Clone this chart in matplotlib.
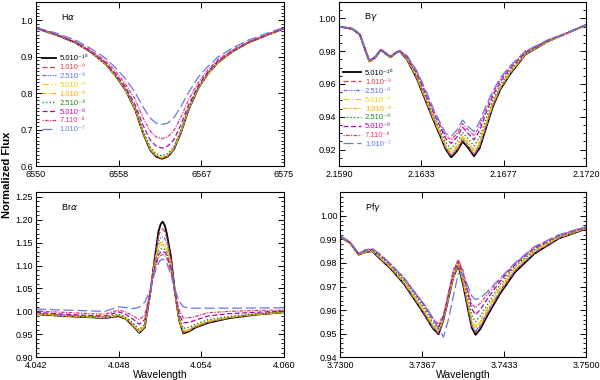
import matplotlib
matplotlib.use('Agg')
import matplotlib.pyplot as plt
from matplotlib.ticker import AutoMinorLocator, NullLocator
import numpy as np

plt.rcParams['font.family'] = ['Liberation Sans', 'DejaVu Sans']

# mass-loss rates (legend)
labels = ['5.010⁻¹⁰', '1.010⁻⁹', '2.510⁻⁹', '5.010⁻⁹', '1.010⁻⁸',
          '2.510⁻⁸', '5.010⁻⁸', '7.110⁻⁸', '1.010⁻⁷']
colors = ['#000000', '#dc3c46', '#5a6ee6', '#e6d200', '#ffa500',
          '#1e8c1e', '#b400b4', '#dc3c78', '#6478e6']
styles = ['-', (0, (4, 2)), (0, (3, 1, 1, 1, 1, 1, 1, 1)), (0, (5, 2, 1, 2)), (0, (3, 1, 1, 1, 1, 1)),
          (0, (1, 1.5)), (0, (4, 2)), (0, (1, 1, 3, 1)), (0, (8, 3))]
widths = [1.3, 0.9, 0.9, 0.9, 0.9, 1.0, 0.9, 0.9, 0.9]

# H alpha
ha_wl = [6550, 6552, 6554, 6555.5, 6557, 6558, 6559, 6560, 6560.8, 6561.5, 6562.1, 6562.7,
         6563.3, 6563.9, 6564.6, 6565.4, 6566.4, 6567.4, 6568.4, 6569.9, 6571.4, 6573.4, 6575]
ha_flux = [
    [0.978, 0.960, 0.938, 0.913, 0.880, 0.848, 0.810, 0.755, 0.690, 0.645, 0.626, 0.620, 0.626, 0.645, 0.690, 0.755, 0.815, 0.855, 0.885, 0.915, 0.938, 0.960, 0.977],
    [0.978, 0.960, 0.938, 0.913, 0.880, 0.848, 0.810, 0.756, 0.691, 0.646, 0.627, 0.621, 0.627, 0.646, 0.691, 0.756, 0.815, 0.855, 0.885, 0.915, 0.938, 0.960, 0.977],
    [0.978, 0.960, 0.938, 0.913, 0.880, 0.848, 0.811, 0.757, 0.692, 0.647, 0.628, 0.622, 0.628, 0.647, 0.692, 0.757, 0.816, 0.855, 0.885, 0.915, 0.938, 0.960, 0.977],
    [0.978, 0.960, 0.938, 0.913, 0.880, 0.848, 0.811, 0.757, 0.693, 0.648, 0.629, 0.623, 0.629, 0.648, 0.693, 0.757, 0.816, 0.855, 0.885, 0.915, 0.938, 0.960, 0.977],
    [0.978, 0.960, 0.938, 0.913, 0.880, 0.848, 0.811, 0.758, 0.694, 0.649, 0.630, 0.624, 0.630, 0.649, 0.694, 0.758, 0.816, 0.855, 0.885, 0.915, 0.938, 0.960, 0.977],
    [0.978, 0.960, 0.938, 0.913, 0.881, 0.849, 0.812, 0.760, 0.697, 0.653, 0.634, 0.628, 0.634, 0.653, 0.697, 0.760, 0.817, 0.856, 0.886, 0.915, 0.938, 0.960, 0.977],
    [0.978, 0.961, 0.939, 0.915, 0.884, 0.854, 0.818, 0.768, 0.712, 0.672, 0.655, 0.649, 0.655, 0.672, 0.712, 0.768, 0.822, 0.860, 0.889, 0.917, 0.939, 0.961, 0.977],
    [0.978, 0.962, 0.941, 0.918, 0.889, 0.861, 0.826, 0.783, 0.732, 0.697, 0.680, 0.675, 0.680, 0.697, 0.732, 0.783, 0.830, 0.866, 0.893, 0.920, 0.941, 0.962, 0.978],
    [0.980, 0.965, 0.945, 0.923, 0.896, 0.870, 0.840, 0.802, 0.762, 0.732, 0.718, 0.714, 0.718, 0.732, 0.762, 0.802, 0.845, 0.875, 0.900, 0.925, 0.945, 0.965, 0.980],
]

# Br gamma
bg_wl = [2.1590, 2.1597, 2.1601, 2.1604, 2.1606, 2.1609, 2.1612, 2.1615, 2.1617, 2.1620, 2.1622,
         2.1626, 2.1631, 2.1636, 2.1640, 2.1643, 2.1646, 2.1649, 2.1652, 2.1655, 2.1658, 2.1661,
         2.1664, 2.1667, 2.1671, 2.1675, 2.1680, 2.1688, 2.1700, 2.1712, 2.1720]
bg_flux = [
    [0.995, 0.9935, 0.990, 0.980, 0.9737, 0.976, 0.9808, 0.978, 0.9763, 0.979, 0.980, 0.9745, 0.963, 0.9485, 0.937, 0.929, 0.9205, 0.9153, 0.919, 0.925, 0.921, 0.916, 0.921, 0.932, 0.9465, 0.957, 0.966, 0.978, 0.986, 0.992, 0.996],
    [0.995, 0.9935, 0.990, 0.980, 0.9738, 0.9761, 0.9808, 0.978, 0.9763, 0.979, 0.980, 0.9747, 0.9633, 0.9489, 0.9374, 0.9295, 0.9211, 0.9161, 0.9198, 0.9258, 0.9218, 0.9169, 0.922, 0.9328, 0.9471, 0.9574, 0.9663, 0.9781, 0.986, 0.992, 0.996],
    [0.995, 0.9935, 0.990, 0.980, 0.9738, 0.9761, 0.9808, 0.9781, 0.9764, 0.9791, 0.9801, 0.9748, 0.9636, 0.9493, 0.9378, 0.930, 0.9216, 0.9168, 0.9206, 0.9266, 0.9226, 0.9178, 0.9229, 0.9337, 0.9476, 0.9578, 0.9666, 0.9782, 0.986, 0.992, 0.996],
    [0.995, 0.9936, 0.9901, 0.9801, 0.9738, 0.9761, 0.9809, 0.9781, 0.9764, 0.9791, 0.9801, 0.975, 0.9639, 0.9497, 0.9383, 0.9304, 0.9222, 0.9176, 0.9213, 0.9273, 0.9233, 0.9187, 0.9239, 0.9345, 0.9482, 0.9583, 0.9669, 0.9784, 0.986, 0.992, 0.996],
    [0.995, 0.9936, 0.9901, 0.9801, 0.9739, 0.9762, 0.9809, 0.9782, 0.9765, 0.9791, 0.9801, 0.9751, 0.9643, 0.9501, 0.9388, 0.931, 0.9229, 0.9185, 0.9223, 0.9283, 0.9243, 0.9198, 0.925, 0.9355, 0.9489, 0.9588, 0.9673, 0.9785, 0.986, 0.992, 0.996],
    [0.995, 0.9937, 0.9902, 0.9802, 0.974, 0.9763, 0.981, 0.9783, 0.9766, 0.9792, 0.9802, 0.9755, 0.9651, 0.9512, 0.9399, 0.9324, 0.9245, 0.9206, 0.9245, 0.9305, 0.9265, 0.9223, 0.9277, 0.9379, 0.9505, 0.9599, 0.9681, 0.9788, 0.9864, 0.992, 0.996],
    [0.995, 0.9938, 0.9903, 0.9803, 0.9742, 0.9765, 0.9811, 0.9785, 0.9768, 0.9793, 0.9803, 0.9762, 0.9664, 0.9529, 0.9417, 0.9344, 0.9269, 0.9238, 0.9277, 0.9337, 0.9297, 0.926, 0.9317, 0.9414, 0.9529, 0.9617, 0.9694, 0.9793, 0.9866, 0.992, 0.996],
    [0.995, 0.9939, 0.9904, 0.9804, 0.9744, 0.9767, 0.9811, 0.9786, 0.9769, 0.9794, 0.9804, 0.9766, 0.9672, 0.954, 0.9429, 0.9357, 0.9285, 0.926, 0.9299, 0.9359, 0.9319, 0.9286, 0.9344, 0.9438, 0.9545, 0.9629, 0.9702, 0.9797, 0.9868, 0.992, 0.996],
    [0.995, 0.994, 0.9905, 0.9805, 0.9745, 0.9768, 0.9812, 0.9787, 0.977, 0.9795, 0.9805, 0.977, 0.968, 0.955, 0.944, 0.937, 0.930, 0.928, 0.932, 0.938, 0.934, 0.931, 0.937, 0.946, 0.956, 0.964, 0.971, 0.980, 0.987, 0.992, 0.996],
]

# Br alpha
ba_wl = [4.042, 4.044, 4.046, 4.047, 4.048, 4.0485, 4.049, 4.0495, 4.0499, 4.0503, 4.0506, 4.0509, 4.05105,
         4.0512, 4.05135, 4.0515, 4.0518, 4.0521, 4.0524, 4.0527, 4.0531, 4.0536, 4.0545, 4.056, 4.058, 4.060]
ba_flux = [
    [0.994, 0.990, 0.987, 0.9855, 0.9895, 0.984, 0.970, 0.953, 0.965, 1.040, 1.110, 1.175, 1.190, 1.196, 1.188, 1.170, 1.120, 1.040, 0.980, 0.952, 0.956, 0.965, 0.975, 0.985, 0.993, 0.998],
    [0.994, 0.990, 0.987, 0.986, 0.990, 0.9845, 0.971, 0.953, 0.966, 1.040, 1.108, 1.165, 1.176, 1.180, 1.174, 1.160, 1.115, 1.040, 0.980, 0.953, 0.957, 0.966, 0.976, 0.986, 0.993, 0.998],
    [0.995, 0.991, 0.988, 0.986, 0.991, 0.985, 0.972, 0.954, 0.967, 1.040, 1.105, 1.152, 1.160, 1.163, 1.159, 1.148, 1.108, 1.040, 0.981, 0.955, 0.958, 0.967, 0.977, 0.986, 0.994, 0.998],
    [0.995, 0.991, 0.988, 0.986, 0.9915, 0.985, 0.972, 0.955, 0.968, 1.040, 1.102, 1.143, 1.150, 1.152, 1.149, 1.140, 1.104, 1.040, 0.982, 0.956, 0.959, 0.968, 0.978, 0.987, 0.994, 0.998],
    [0.995, 0.991, 0.988, 0.987, 0.992, 0.986, 0.973, 0.956, 0.969, 1.040, 1.100, 1.138, 1.144, 1.146, 1.143, 1.135, 1.101, 1.040, 0.983, 0.958, 0.961, 0.969, 0.979, 0.987, 0.994, 0.998],
    [0.996, 0.992, 0.989, 0.988, 0.994, 0.988, 0.976, 0.960, 0.972, 1.040, 1.097, 1.131, 1.136, 1.138, 1.135, 1.128, 1.097, 1.040, 0.986, 0.963, 0.965, 0.972, 0.982, 0.989, 0.995, 0.999],
    [0.998, 0.994, 0.991, 0.990, 0.999, 0.994, 0.984, 0.972, 0.982, 1.042, 1.093, 1.124, 1.129, 1.131, 1.129, 1.122, 1.093, 1.042, 0.994, 0.975, 0.976, 0.981, 0.990, 0.995, 0.998, 1.001],
    [1.001, 0.998, 0.995, 0.994, 1.003, 0.999, 0.991, 0.982, 0.992, 1.044, 1.089, 1.117, 1.122, 1.124, 1.122, 1.116, 1.088, 1.044, 1.003, 0.986, 0.986, 0.989, 0.997, 1.000, 1.002, 1.003],
    [1.005, 1.003, 1.001, 1.000, 1.010, 1.0085, 1.006, 1.009, 1.020, 1.048, 1.082, 1.106, 1.112, 1.114, 1.112, 1.105, 1.080, 1.048, 1.022, 1.010, 1.007, 1.007, 1.007, 1.007, 1.0075, 1.008],
]

# Pf gamma
pg_wl = [3.7300, 3.7308, 3.7315, 3.7320, 3.7326, 3.7333, 3.7342, 3.7352, 3.7361, 3.7369, 3.7375,
         3.7380, 3.7384, 3.7388, 3.7392, 3.7396, 3.7400, 3.7404, 3.7407, 3.7410, 3.7414, 3.7420,
         3.7430, 3.7442, 3.7458, 3.7478, 3.7500]
pg_flux = [
    [0.991, 0.9885, 0.9835, 0.9845, 0.985, 0.9815, 0.977, 0.971, 0.964, 0.9577, 0.9525, 0.9497, 0.956, 0.965, 0.974, 0.979, 0.9705, 0.960, 0.9525, 0.9495, 0.952, 0.958, 0.967, 0.976, 0.984, 0.9905, 0.9945],
    [0.991, 0.9885, 0.9835, 0.9845, 0.985, 0.9816, 0.9771, 0.9712, 0.9642, 0.958, 0.9528, 0.950, 0.956, 0.965, 0.974, 0.979, 0.971, 0.9607, 0.9533, 0.9505, 0.953, 0.9588, 0.9676, 0.9765, 0.9843, 0.9906, 0.9945],
    [0.991, 0.9886, 0.9836, 0.9846, 0.9851, 0.9818, 0.9773, 0.9714, 0.9645, 0.9584, 0.9532, 0.9505, 0.9562, 0.9652, 0.9742, 0.9795, 0.9716, 0.9614, 0.954, 0.951, 0.9537, 0.9595, 0.9682, 0.977, 0.9846, 0.9908, 0.9946],
    [0.991, 0.9886, 0.9836, 0.9846, 0.9852, 0.982, 0.9776, 0.9718, 0.965, 0.959, 0.9537, 0.951, 0.9565, 0.9654, 0.9744, 0.9795, 0.9722, 0.9622, 0.9549, 0.952, 0.9546, 0.9603, 0.9689, 0.9775, 0.985, 0.991, 0.9947],
    [0.991, 0.9886, 0.9837, 0.9847, 0.9853, 0.9822, 0.9779, 0.9721, 0.9654, 0.9595, 0.9542, 0.9515, 0.9567, 0.9656, 0.9746, 0.980, 0.9728, 0.963, 0.9558, 0.953, 0.9555, 0.9611, 0.9696, 0.978, 0.9853, 0.9912, 0.9948],
    [0.9912, 0.9887, 0.9838, 0.9849, 0.9855, 0.9826, 0.9782, 0.9726, 0.9662, 0.9603, 0.955, 0.952, 0.957, 0.966, 0.975, 0.980, 0.974, 0.9647, 0.9577, 0.955, 0.9575, 0.9627, 0.9708, 0.9786, 0.9857, 0.9914, 0.995],
    [0.9913, 0.9888, 0.9839, 0.9852, 0.9858, 0.9831, 0.9788, 0.9733, 0.9671, 0.9614, 0.9562, 0.953, 0.9575, 0.9668, 0.9762, 0.981, 0.9755, 0.9668, 0.9605, 0.958, 0.9603, 0.965, 0.9722, 0.9793, 0.9862, 0.9917, 0.9952],
    [0.9914, 0.9889, 0.984, 0.9854, 0.986, 0.9834, 0.9791, 0.9737, 0.9675, 0.9618, 0.9566, 0.954, 0.9582, 0.9675, 0.977, 0.9815, 0.9765, 0.9683, 0.9625, 0.961, 0.963, 0.9668, 0.973, 0.9797, 0.9866, 0.9918, 0.9953],
    [0.9915, 0.989, 0.984, 0.9855, 0.9862, 0.9835, 0.979, 0.9735, 0.967, 0.962, 0.957, 0.952, 0.9485, 0.956, 0.966, 0.9755, 0.975, 0.970, 0.966, 0.9645, 0.965, 0.968, 0.9735, 0.980, 0.987, 0.992, 0.9955],
]

line_names = [r'H$\alpha$', r'B$\gamma$', r'Br$\alpha$', r'Pf$\gamma$']
xticklabels = [['6550', '6558', '6567', '6575'],
               ['2.1590', '2.1633', '2.1677', '2.1720'],
               ['4.042', '4.048', '4.054', '4.060'],
               ['3.7300', '3.7367', '3.7433', '3.7500']]
xlims = [(6550, 6575), (2.1590, 2.1720), (4.042, 4.060), (3.7300, 3.7500)]
ylims = [(0.6, 1.05), (0.91, 1.01), (0.9, 1.26), (0.94, 1.01)]
yticks = [[0.6, 0.7, 0.8, 0.9, 1.0],
          [0.92, 0.94, 0.96, 0.98, 1.00],
          [0.90, 0.95, 1.00, 1.05, 1.10, 1.15, 1.20, 1.25],
          [0.94, 0.95, 0.96, 0.97, 0.98, 0.99, 1.00]]
yfmt = ['%.1f', '%.2f', '%.2f', '%.2f']
yminor = [10, 4, 5, 5]

size = 6.5
fig = plt.figure(figsize=(6, 3.8), dpi=100)
pos = [[0.060, 0.563, 0.413, 0.432],
       [0.565, 0.563, 0.412, 0.432],
       [0.060, 0.060, 0.413, 0.434],
       [0.567, 0.060, 0.410, 0.434]]
data = [(ha_wl, ha_flux), (bg_wl, bg_flux), (ba_wl, ba_flux), (pg_wl, pg_flux)]

for k in range(4):
    ax = fig.add_axes(pos[k])
    wl, flux = data[k]
    for i in range(len(labels)):
        ax.plot(wl, flux[i], color=colors[i], ls=styles[i], lw=widths[i], label=labels[i])
    ax.set_xlim(xlims[k])
    ax.set_ylim(ylims[k])
    ax.set_xticks(np.linspace(xlims[k][0], xlims[k][1], 4))
    ax.set_xticklabels(xticklabels[k])
    ax.set_yticks(yticks[k])
    ax.set_yticklabels([yfmt[k] % v for v in yticks[k]])
    ax.xaxis.set_minor_locator(NullLocator())
    ax.yaxis.set_minor_locator(AutoMinorLocator(yminor[k]))
    ax.tick_params(which='both', direction='in', top=True, right=True, labelsize=size)
    ax.tick_params(axis='x', pad=3)
    ax.tick_params(axis='y', pad=2)
    ax.tick_params(which='major', length=4, width=0.7)
    ax.tick_params(which='minor', length=2, width=0.6)
    for sp in ax.spines.values():
        sp.set_linewidth(0.8)
    ax.text(0.1, 0.91, line_names[k], transform=ax.transAxes, fontsize=6.5, va='center')
    if k == 0:
        leg = ax.legend(loc='upper left', bbox_to_anchor=(0.01, 0.70), frameon=False,
                        fontsize=5.5, handlelength=1.8, handletextpad=0.5, labelspacing=0.2,
                        labelcolor='linecolor', borderpad=0)
    if k == 1:
        leg = ax.legend(loc='upper left', bbox_to_anchor=(0.0, 0.61), frameon=False,
                        fontsize=5.5, handlelength=2.4, handletextpad=0.5, labelspacing=0.2,
                        labelcolor='linecolor', borderpad=0)
    if k >= 2:
        ax.set_xlabel('Wavelength', fontsize=7.5, labelpad=0)

fig.text(0.011, 0.54, 'Normalized Flux', rotation=90, fontsize=8, fontweight='bold',
         va='center', ha='center')
plt.savefig('out.png', dpi=100)
plt.close(fig)
